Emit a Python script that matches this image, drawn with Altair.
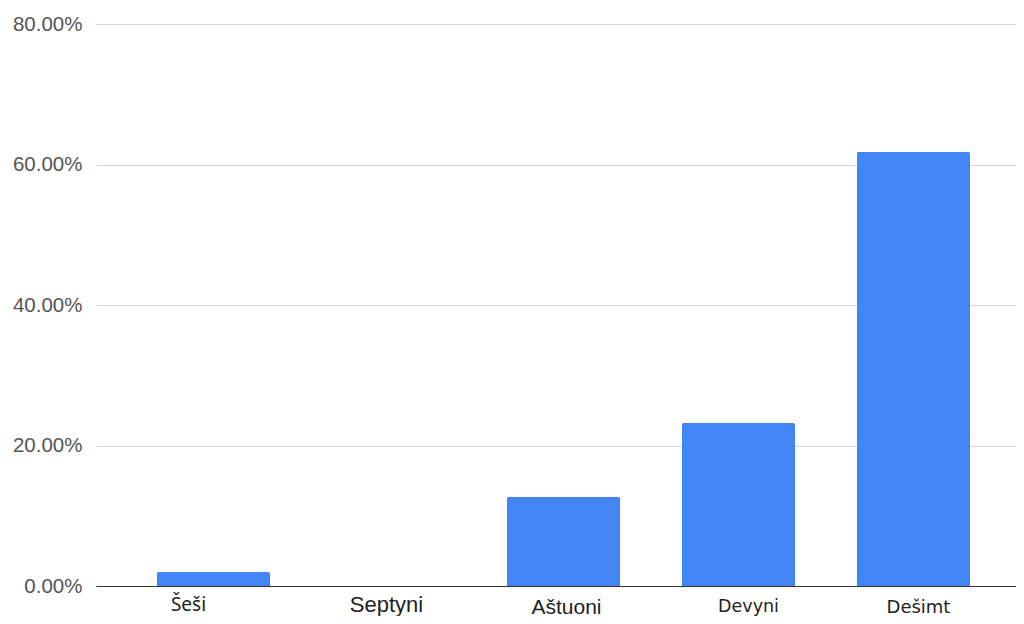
import altair as alt
import pandas as pd

categories = ["Šeši", "Septyni", "Aštuoni", "Devyni", "Dešimt"]
values = [0.020, 0.0, 0.127, 0.232, 0.618]
y_ticks = [0, 0.2, 0.4, 0.6, 0.8]

df = pd.DataFrame({"cat": categories, "val": values})

# per-label styling (the reference mixes fonts on the category axis)
label_font = {"Šeši": "Noto Sans", "Septyni": "Liberation Sans", "Aštuoni": "Liberation Sans",
              "Devyni": "DejaVu Sans", "Dešimt": "DejaVu Sans"}
label_size = {"Šeši": 19, "Septyni": 22, "Aštuoni": 21, "Devyni": 17.5, "Dešimt": 18}
label_dx = {"Šeši": -25, "Septyni": -2, "Aštuoni": 3, "Devyni": 10, "Dešimt": 5}
label_pad = {"Šeši": 24, "Septyni": 25, "Aštuoni": 27, "Devyni": 25, "Dešimt": 26}


def lookup_expr(mapping, quote=False):
    expr = "'Liberation Sans'" if quote else "0"
    for k, v in mapping.items():
        val = f"'{v}'" if quote else str(v)
        expr = f"datum.value === '{k}' ? {val} : ({expr})"
    return alt.expr(expr)


chart = alt.Chart(df).mark_bar(color="#4285F4", cornerRadiusTopLeft=2, cornerRadiusTopRight=2).encode(
    x=alt.X("cat:N", sort=categories, title=None,
            scale=alt.Scale(paddingInner=0.354, paddingOuter=0.3057, align=0.57),
            axis=alt.Axis(labelAngle=0, ticks=False, domainColor="#333333", domainWidth=1.2,
                          labelFont=lookup_expr(label_font, quote=True),
                          labelFontSize=lookup_expr(label_size),
                          labelOffset=lookup_expr(label_dx),
                          labelPadding=lookup_expr(label_pad),
                          labelColor="#222222", labelBaseline="alphabetic")),
    y=alt.Y("val:Q", title=None,
            scale=alt.Scale(domain=[0, 0.8], nice=False),
            axis=alt.Axis(values=y_ticks, format=".2%", ticks=False, domain=False,
                          gridColor="#d6d6d6", gridWidth=1,
                          labelFont="Liberation Sans", labelFontSize=20.5, labelColor="#555555",
                          labelPadding=14)),
).properties(
    width=920, height=562,
    autosize=alt.AutoSizeParams(type="none"),
    padding={"left": 88, "top": 16, "right": 0, "bottom": 30},
).configure_view(stroke=None)

chart.save("out.html", embed_options={"renderer": "svg", "actions": False})
